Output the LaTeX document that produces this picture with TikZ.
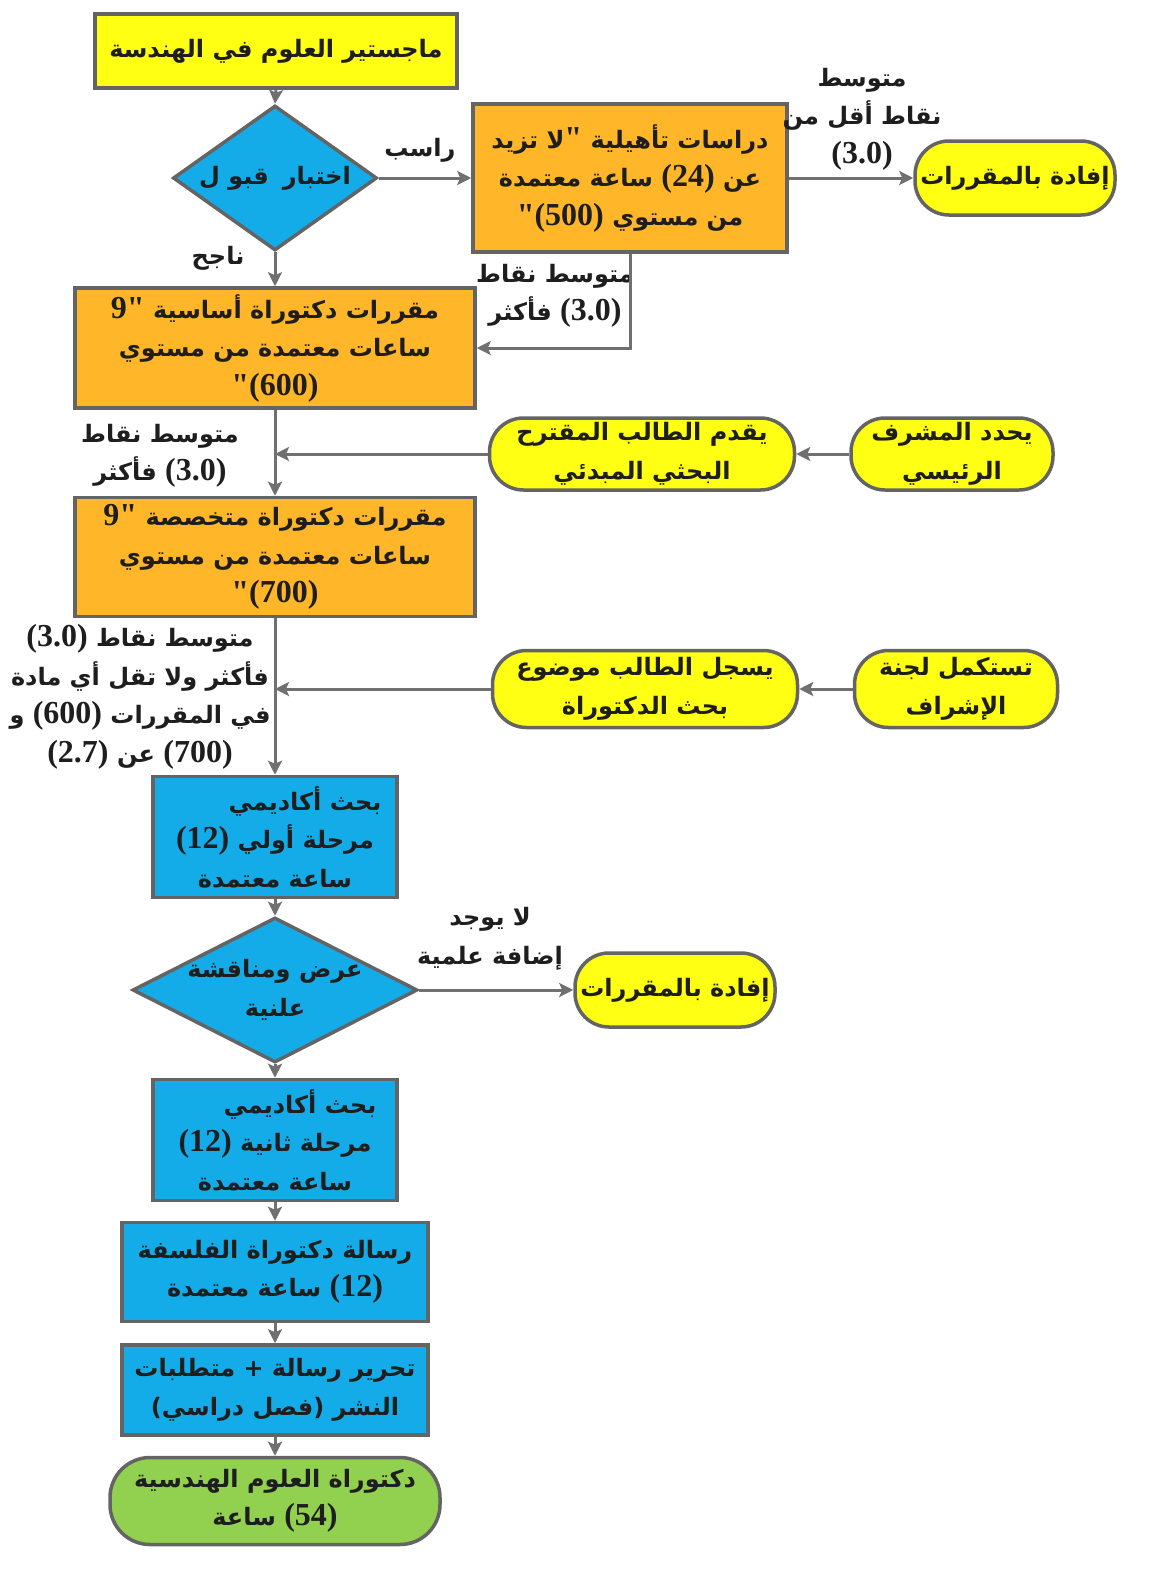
\documentclass[tikz,border=0pt]{standalone}
\usepackage{fontspec}
\usetikzlibrary{shapes.geometric,arrows.meta}
\TeXXeTstate=1
\newfontfamily\arabicfont[Script=Arabic]{DejaVu Sans}
\newfontfamily\numfont{Liberation Serif}
\newcommand\AR[1]{\beginR#1\endR}
\newcommand\nm[1]{\hbox{\numfont\bfseries\fontsize{32}{38.5}\selectfont #1}}
\definecolor{cyel}{RGB}{255,255,20}
\definecolor{corg}{RGB}{255,182,40}
\definecolor{cblu}{RGB}{20,172,232}
\definecolor{cgrn}{RGB}{146,208,80}
\definecolor{cbrd}{RGB}{100,100,100}
\definecolor{carr}{RGB}{112,112,112}
\definecolor{ctxt}{RGB}{30,30,30}
\tikzset{
  txt/.style={font=\arabicfont\bfseries\fontsize{24}{38.5}\selectfont, text=ctxt, align=center, inner sep=0pt},
  box/.style={txt, draw=cbrd, line width=3.5pt, rectangle, minimum width=#1},
  pill/.style={txt, draw=cbrd, line width=3.5pt, rectangle, rounded corners=34pt, fill=cyel, minimum width=#1},
  dia/.style={draw=cbrd, line width=3.5pt, diamond, fill=cblu, inner sep=0pt},
  lbl/.style={txt},
  arr/.style={draw=carr, line width=3pt, -{Stealth[length=14pt,width=14pt,inset=3pt]}}
}
\begin{document}
\begin{tikzpicture}[x=1pt,y=-1pt]
\useasboundingbox (0,0) rectangle (1151,1571);
% main column
\node[box=362pt, minimum height=74pt, fill=cyel] (top) at (276,51) {\AR{ماجستير العلوم في الهندسة}};
\node[dia, minimum width=204pt, minimum height=145pt] (d1) at (275,178) {};
\node[txt] (d1t) at (d1.center) {\AR{اختبار\hspace{14pt}قبو ل}};
\node[box=314pt, minimum height=148pt, fill=corg] (b1) at (630,178)
  {\AR{دراسات تأهيلية \nm{"}لا تزيد}\\ \AR{عن \nm{(24)} ساعة معتمدة}\\ \AR{من مستوي \nm{"(500)}}};
\node[pill=200pt, minimum height=74pt] (f1) at (1015,178) {\AR{إفادة بالمقررات}};
\node[box=400pt, minimum height=120pt, fill=corg] (b2) at (275,348)
  {\AR{مقررات دكتوراة أساسية \nm{9"}}\\ \AR{ساعات معتمدة من مستوي}\\ \AR{\nm{"(600)}}};
\node[box=400pt, minimum height=119pt, fill=corg] (b3) at (275,557)
  {\AR{مقررات دكتوراة متخصصة \nm{9"}}\\ \AR{ساعات معتمدة من مستوي}\\ \AR{\nm{"(700)}}};
\node[pill=305pt, minimum height=72pt] (y1) at (642,454) {\AR{يقدم الطالب المقترح}\\ \AR{البحثي المبدئي}};
\node[pill=202pt, minimum height=72pt] (y2) at (952,454) {\AR{يحدد المشرف}\\ \AR{الرئيسي}};
\node[pill=305pt, minimum height=77pt] (y3) at (645,689) {\AR{يسجل الطالب موضوع}\\ \AR{بحث الدكتوراة}};
\node[pill=203pt, minimum height=77pt] (y4) at (956,689) {\AR{تستكمل لجنة}\\ \AR{الإشراف}};
\coordinate (j1) at (275,454);
\coordinate (j2) at (275,689);
\node[box=244pt, minimum height=121pt, fill=cblu] (b4) at (275,837)
  {\AR{بحث أكاديمي\hspace*{60pt}}\\ \AR{مرحلة أولي \nm{(12)}}\\ \AR{ساعة معتمدة}};
\node[dia, minimum width=285pt, minimum height=145pt] (d2) at (275,990) {};
\node[txt] (d2t) at (d2.center) {\AR{عرض ومناقشة}\\ \AR{علنية}};
\node[pill=200pt, minimum height=74pt] (f2) at (675,990) {\AR{إفادة بالمقررات}};
\node[box=244pt, minimum height=121pt, fill=cblu] (b5) at (275,1140)
  {\AR{بحث أكاديمي\hspace*{50pt}}\\ \AR{مرحلة ثانية \nm{(12)}}\\ \AR{ساعة معتمدة}};
\node[box=306pt, minimum height=99pt, fill=cblu] (b6) at (275,1272)
  {\AR{رسالة دكتوراة الفلسفة}\\ \AR{\nm{(12)} ساعة معتمدة}};
\node[box=306pt, minimum height=90pt, fill=cblu] (b7) at (275,1390)
  {\AR{تحرير رسالة + متطلبات}\\ \AR{النشر \hbox{(}فصل دراسي\hbox{)}}};
\node[box=330pt, minimum height=87pt, fill=cgrn, rounded corners=40pt] (g) at (275,1501)
  {\AR{دكتوراة العلوم الهندسية}\\ \AR{\nm{(54)} ساعة}};
% labels
\node[lbl] (lrasib) at (420,150) {\AR{راسب}};
\node[lbl] (lnajih) at (218,258) {\AR{ناجح}};
\node[lbl] (lless) at (862,119) {\AR{متوسط}\\ \AR{نقاط أقل من}\\ \AR{\nm{(3.0)}}};
\node[lbl] (lgpa1) at (555,296) {\AR{متوسط نقاط}\\ \AR{\nm{(3.0)} فأكثر}};
\node[lbl] (lgpa2) at (160,456) {\AR{متوسط نقاط}\\ \AR{\nm{(3.0)} فأكثر}};
\node[lbl] (lgpa3) at (140,697) {\AR{متوسط نقاط \nm{(3.0)}}\\ \AR{فأكثر ولا تقل أي مادة}\\ \AR{في المقررات \nm{(600)} و}\\ \AR{\nm{(700)} عن \nm{(2.7)}}};
\node[lbl] (lnone) at (490,939) {\AR{لا يوجد}\\ \AR{إضافة علمية}};
% connectors
\draw[arr] (top.south) -- (d1.north);
\draw[arr] (d1.east) -- (b1.west);
\draw[arr] (b1.east) -- (f1.west);
\draw[arr] (d1.south) -- (b2.north);
\draw[arr] (b1.south) |- (b2.east);
\draw[arr] (b2.south) -- (b3.north);
\draw[arr] (y1.west) -- (j1);
\draw[arr] (y2.west) -- (y1.east);
\draw[arr] (b3.south) -- (b4.north);
\draw[arr] (y3.west) -- (j2);
\draw[arr] (y4.west) -- (y3.east);
\draw[arr] (b4.south) -- (d2.north);
\draw[arr] (d2.east) -- (f2.west);
\draw[arr] (d2.south) -- (b5.north);
\draw[arr] (b5.south) -- (b6.north);
\draw[arr] (b6.south) -- (b7.north);
\draw[arr] (b7.south) -- (g.north);
\end{tikzpicture}
\end{document}
